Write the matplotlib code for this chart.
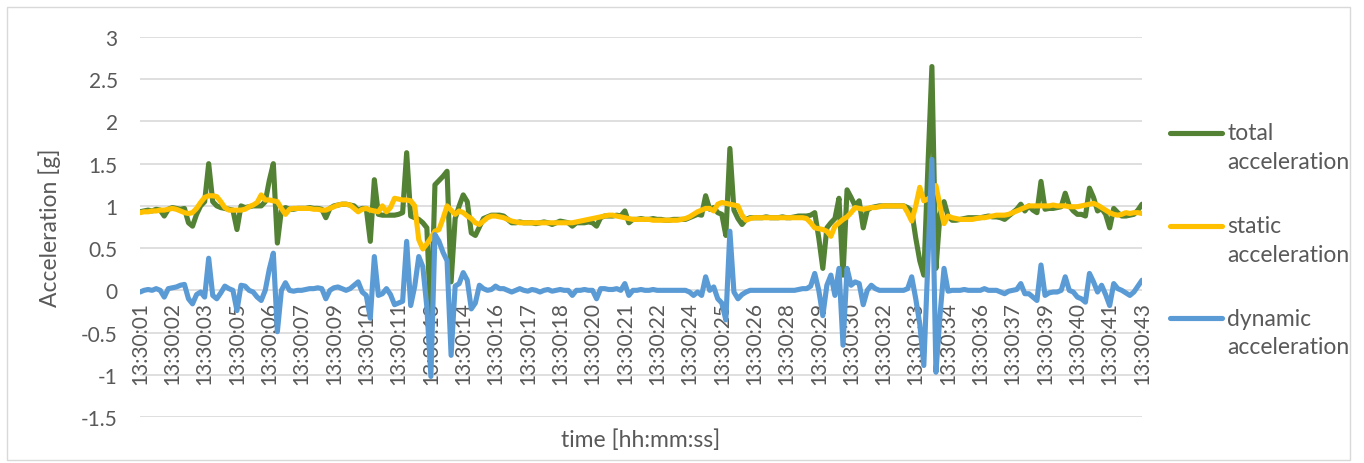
import numpy as np
import matplotlib
matplotlib.use("Agg")
import matplotlib.pyplot as plt
from matplotlib.lines import Line2D
from matplotlib.patches import Rectangle

# Category labels shown under the axis (one every `label_step` samples)
time_labels = [
    "13:30:01", "13:30:02", "13:30:03", "13:30:05", "13:30:06", "13:30:07",
    "13:30:09", "13:30:10", "13:30:11", "13:30:13", "13:30:14", "13:30:16",
    "13:30:17", "13:30:18", "13:30:20", "13:30:21", "13:30:22", "13:30:24",
    "13:30:25", "13:30:26", "13:30:28", "13:30:29", "13:30:30", "13:30:32",
    "13:30:33", "13:30:34", "13:30:36", "13:30:37", "13:30:39", "13:30:40",
    "13:30:41", "13:30:43",
]
label_step = 8

# Acceleration samples [g], eight samples per labelled interval
total_acc = [
    0.93, 0.94, 0.95, 0.94, 0.96, 0.95, 0.88, 0.96,
    0.98, 0.97, 0.96, 0.97, 0.80, 0.76, 0.90, 1.00,
    1.05, 1.50, 1.05, 1.00, 0.98, 0.97, 0.96, 0.95,
    0.72, 1.00, 0.98, 0.99, 1.00, 1.00, 1.00, 1.05,
    1.30, 1.50, 0.56, 0.95, 0.98, 0.96, 0.96, 0.97,
    0.97, 0.97, 0.98, 0.97, 0.97, 0.96, 0.86, 0.97,
    1.00, 1.01, 1.02, 1.02, 1.01, 1.00, 0.95, 0.97,
    0.97, 0.58, 1.31, 0.90, 0.89, 0.89, 0.89, 0.89,
    0.90, 0.92, 1.63, 0.88, 0.86, 0.84, 0.80, 0.74,
    -0.40, 1.25, 1.30, 1.35, 1.41, 0.10, 0.85, 1.00,
    1.13, 1.05, 0.68, 0.65, 0.75, 0.85, 0.87, 0.89,
    0.89, 0.89, 0.88, 0.84, 0.80, 0.80, 0.81, 0.80,
    0.80, 0.80, 0.79, 0.80, 0.81, 0.80, 0.78, 0.80,
    0.82, 0.81, 0.80, 0.76, 0.80, 0.80, 0.80, 0.81,
    0.80, 0.76, 0.86, 0.88, 0.88, 0.88, 0.89, 0.88,
    0.94, 0.80, 0.84, 0.84, 0.85, 0.84, 0.84, 0.85,
    0.84, 0.84, 0.83, 0.83, 0.84, 0.84, 0.84, 0.84,
    0.86, 0.88, 0.90, 0.89, 1.12, 0.96, 0.98, 0.92,
    0.90, 0.65, 1.68, 0.95, 0.85, 0.78, 0.84, 0.86,
    0.86, 0.86, 0.86, 0.87, 0.86, 0.86, 0.86, 0.87,
    0.86, 0.86, 0.87, 0.88, 0.88, 0.88, 0.89, 0.92,
    0.62, 0.26, 0.74, 0.80, 0.85, 1.09, 0.18, 1.19,
    1.10, 1.00, 1.06, 0.74, 0.95, 0.98, 0.99, 1.00,
    1.00, 1.00, 1.00, 1.00, 1.00, 1.00, 0.98, 0.94,
    0.62, 0.35, 0.18, 1.45, 2.65, 0.26, 0.90, 1.05,
    0.88, 0.83, 0.83, 0.84, 0.85, 0.86, 0.86, 0.86,
    0.86, 0.87, 0.88, 0.87, 0.87, 0.86, 0.84, 0.88,
    0.92, 0.96, 1.02, 0.94, 1.00, 0.95, 0.92, 1.29,
    0.96, 0.97, 0.97, 0.98, 0.99, 1.15, 1.00, 0.94,
    0.90, 0.90, 0.88, 1.21, 1.10, 0.94, 0.97, 0.90,
    0.74, 0.97, 0.92, 0.88, 0.88, 0.89, 0.90, 0.95,
    1.02,
]

static_acc = [
    0.92, 0.93, 0.93, 0.94, 0.94, 0.95, 0.95, 0.96,
    0.97, 0.96, 0.94, 0.92, 0.91, 0.92, 0.97, 1.04,
    1.10, 1.12, 1.12, 1.11, 1.05, 0.98, 0.95, 0.95,
    0.95, 0.95, 0.96, 0.99, 1.01, 1.04, 1.13, 1.07,
    1.07, 1.06, 1.05, 0.97, 0.90, 0.96, 0.97, 0.97,
    0.97, 0.97, 0.97, 0.96, 0.96, 0.95, 0.95, 0.97,
    0.99, 1.01, 1.02, 1.02, 1.01, 0.97, 0.93, 0.96,
    0.97, 0.95, 0.94, 0.93, 1.00, 0.93, 0.98, 1.09,
    1.08, 1.07, 1.07, 1.06, 1.00, 0.60, 0.49, 0.55,
    0.62, 0.70, 0.72, 0.85, 1.00, 0.95, 0.90, 0.94,
    0.92, 0.88, 0.85, 0.80, 0.78, 0.82, 0.86, 0.88,
    0.88, 0.87, 0.86, 0.84, 0.82, 0.81, 0.80, 0.80,
    0.80, 0.80, 0.80, 0.80, 0.80, 0.80, 0.80, 0.80,
    0.80, 0.80, 0.80, 0.80, 0.81, 0.82, 0.83, 0.84,
    0.85, 0.86, 0.87, 0.88, 0.89, 0.89, 0.88, 0.87,
    0.86, 0.85, 0.84, 0.84, 0.84, 0.84, 0.84, 0.83,
    0.83, 0.83, 0.83, 0.83, 0.83, 0.83, 0.84, 0.85,
    0.87, 0.90, 0.93, 0.95, 0.97, 0.97, 0.94, 1.02,
    1.04, 1.03, 1.02, 1.01, 1.00, 0.89, 0.83, 0.85,
    0.86, 0.86, 0.86, 0.86, 0.86, 0.86, 0.86, 0.86,
    0.86, 0.86, 0.86, 0.86, 0.86, 0.85, 0.80, 0.74,
    0.73, 0.72, 0.70, 0.64, 0.76, 0.80, 0.84, 0.87,
    0.92, 0.98, 0.97, 0.96, 0.97, 0.98, 0.98, 0.99,
    1.00, 1.00, 1.00, 1.00, 1.00, 1.00, 0.92, 0.82,
    1.00, 1.22, 1.06, 1.08, 1.12, 1.24, 1.00, 0.79,
    0.88, 0.86, 0.85, 0.84, 0.84, 0.84, 0.84, 0.85,
    0.86, 0.86, 0.87, 0.88, 0.89, 0.89, 0.89, 0.90,
    0.92, 0.94, 0.96, 0.98, 1.00, 1.00, 1.00, 1.00,
    1.00, 1.00, 1.01, 1.00, 1.00, 1.00, 0.99, 0.99,
    0.99, 1.00, 1.01, 1.02, 1.03, 1.01, 0.98, 0.95,
    0.92, 0.90, 0.89, 0.90, 0.92, 0.91, 0.92, 0.92,
    0.91,
]

dynamic_acc = [
    -0.02, 0.00, 0.01, 0.00, 0.02, 0.00, -0.08, 0.02,
    0.03, 0.04, 0.06, 0.07, -0.10, -0.16, -0.05, -0.02,
    -0.08, 0.38, -0.06, -0.10, -0.03, 0.05, 0.02, 0.00,
    -0.24, 0.06, 0.05, 0.00, -0.02, -0.08, -0.12, 0.00,
    0.25, 0.44, -0.49, 0.00, 0.09, 0.00, -0.01, 0.00,
    0.00, 0.01, 0.02, 0.02, 0.03, 0.02, -0.10, 0.00,
    0.03, 0.04, 0.02, 0.00, 0.02, 0.06, 0.10, -0.02,
    -0.06, -0.33, 0.40, -0.06, -0.04, 0.02, -0.05, -0.17,
    -0.15, -0.13, 0.58, -0.18, 0.05, 0.40, 0.28, -0.20,
    -1.02, 0.66, 0.58, 0.45, 0.35, -0.77, 0.05, 0.08,
    0.21, 0.12, -0.22, -0.15, 0.06, 0.02, 0.00, 0.01,
    0.05, 0.02, 0.02, 0.00, -0.02, 0.00, 0.02, 0.00,
    -0.01, 0.01, 0.00, -0.02, 0.00, 0.01, -0.01, 0.00,
    0.01, 0.00, 0.00, -0.06, 0.00, 0.00, 0.01, 0.00,
    0.00, -0.10, 0.02, 0.02, 0.01, 0.01, 0.02, 0.00,
    0.08, -0.06, 0.00, 0.00, 0.01, 0.00, 0.00, 0.01,
    0.00, 0.00, 0.00, 0.00, 0.00, 0.00, 0.00, 0.00,
    -0.02, -0.06, -0.02, -0.06, 0.16, 0.00, 0.04, -0.10,
    -0.15, -0.35, 0.70, -0.02, -0.10, -0.05, -0.02, 0.00,
    0.00, 0.00, 0.00, 0.00, 0.00, 0.00, 0.00, 0.00,
    0.00, 0.00, 0.00, 0.01, 0.02, 0.02, 0.05, 0.20,
    0.00, -0.30, 0.06, 0.18, -0.06, 0.26, -0.65, 0.26,
    0.06, 0.10, 0.08, -0.17, 0.00, 0.06, 0.02, 0.00,
    0.00, 0.00, 0.00, 0.00, 0.00, 0.00, 0.02, 0.16,
    -0.10, -0.40, -0.89, 0.33, 1.55, -0.97, -0.30, 0.26,
    -0.01, 0.00, 0.00, 0.00, 0.01, 0.00, 0.00, 0.00,
    0.00, 0.02, 0.00, 0.00, 0.00, -0.02, -0.04, -0.01,
    0.00, 0.01, 0.08, -0.04, -0.04, -0.08, -0.12, 0.30,
    -0.06, -0.03, -0.02, -0.02, 0.00, 0.16, 0.00, -0.02,
    -0.08, -0.10, -0.14, 0.20, 0.10, -0.02, 0.06, -0.05,
    -0.18, 0.08, 0.02, 0.00, -0.03, -0.06, -0.02, 0.05,
    0.12,
]

series_names = ["total\nacceleration", "static\nacceleration", "dynamic\nacceleration"]
series_colors = ["#548235", "#FFC000", "#5B9BD5"]

y_ticks = [-1.5, -1.0, -0.5, 0.0, 0.5, 1.0, 1.5, 2.0, 2.5, 3.0]

plt.rcParams["font.family"] = ["Lato", "DejaVu Sans"]
plt.rcParams["axes.unicode_minus"] = False

W, H = 1364, 464
text_color = "#595959"
fs = 15
fs_title = 16.5

fig = plt.figure(figsize=(W / 100, H / 100), dpi=100)

# light chart-area border
fig.add_artist(Rectangle((7 / W, 3 / H), (1350 - 7) / W, (456 - 3) / H,
                         transform=fig.transFigure, fill=False,
                         edgecolor="#D9D9D9", lw=1.0))

ax = fig.add_axes([140 / W, 1 - 418 / H, 1002 / W, 380 / H])
x = np.arange(len(total_acc))
for vals, col, z in zip([total_acc, static_acc, dynamic_acc], series_colors, [3, 4, 5]):
    ax.plot(x, vals, color=col, lw=3.7, solid_joinstyle="round",
            solid_capstyle="round", zorder=z)

ax.set_xlim(0, len(x) - 1)
ax.set_ylim(-1.5, 3)
ax.set_yticks(y_ticks)
ax.set_yticklabels([f"{v:g}" for v in y_ticks])
ax.tick_params(axis="y", length=0, pad=16, labelsize=fs, labelcolor=text_color)
ax.set_xticks([])
ax.grid(axis="y", color="#D9D9D9", lw=1.2, zorder=0)
ax.set_axisbelow(True)
for s in ax.spines.values():
    s.set_visible(False)

# category labels hang just below the zero line
for i, lab in enumerate(time_labels):
    ax.annotate(lab, xy=(i * label_step, 0), xytext=(0, -8),
                textcoords="offset points", rotation=90, ha="center", va="top",
                fontsize=fs, color=text_color, annotation_clip=False, zorder=2)

fig.text(50 / W, 1 - 228 / H, "Acceleration [g]", rotation=90, ha="center",
         va="center", fontsize=fs_title, color=text_color)
fig.text(641 / W, 1 - 440 / H, "time [hh:mm:ss]", ha="center", va="center",
         fontsize=fs_title, color=text_color)

# legend on the right
legend_y = [134, 227, 319]
for name, col, yp in zip(series_names, series_colors, legend_y):
    fig.add_artist(Line2D([1170 / W, 1222 / W], [1 - yp / H] * 2,
                          transform=fig.transFigure, color=col, lw=3.7,
                          solid_capstyle="round"))
    first, second = name.split("\n")
    fig.text(1227 / W, 1 - yp / H, first, ha="left", va="center",
             fontsize=fs_title, color=text_color)
    fig.text(1227 / W, 1 - (yp + 29) / H, second, ha="left", va="center",
             fontsize=fs_title, color=text_color)

fig.savefig("out.png", dpi=100, facecolor="white")
